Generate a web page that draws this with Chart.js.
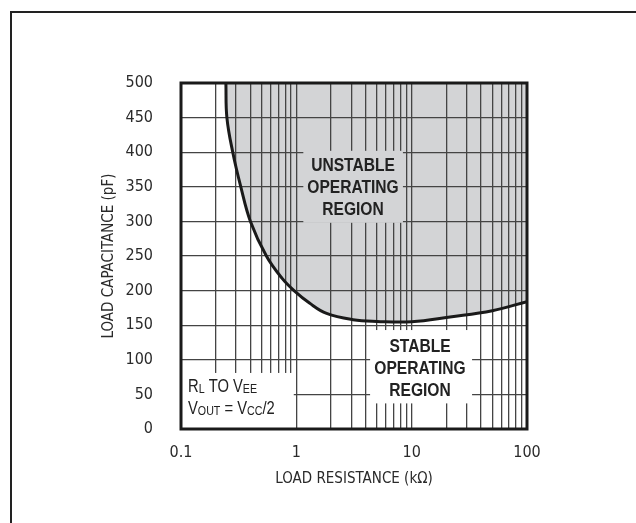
<!DOCTYPE html>
<html>
<head>
<meta charset="utf-8">
<script src="https://cdn.jsdelivr.net/npm/chart.js@4/dist/chart.umd.min.js"></script>
<style>
  body { margin: 0; background: #fff; }
  canvas { display: block; }
</style>
</head>
<body>
<canvas id="chart" width="636" height="523"></canvas>
<script>
// load resistance (kOhm) vs. load capacitance (pF) on the stability boundary
const resistance = [0.245, 0.25, 0.281, 0.33, 0.40, 0.55, 0.75, 0.955, 1.3, 1.83, 3.1, 5, 10, 21.5, 50, 100];
const capacitance = [500, 450, 400, 350, 300, 250, 218, 200, 182, 167, 158, 155.5, 155, 162, 171, 184];

// axis ticks
const xGridValues = [0.1, 0.2, 0.3, 0.4, 0.5, 0.6, 0.7, 0.8, 0.9,
                     1, 2, 3, 4, 5, 6, 7, 8, 9,
                     10, 20, 30, 40, 50, 60, 70, 80, 90, 100];
const xTickLabels = ['0.1', '1', '10', '100'];
const yTicks = [0, 50, 100, 150, 200, 250, 300, 350, 400, 450, 500];

const FONT = '"DejaVu Sans Condensed", "Liberation Sans", sans-serif';
const SHADE = '#d3d4d6';
const NARROW = 0.82; // squeeze Liberation Sans to look like a condensed face

// boxes that mask the grid and hold the region labels
const labelPlugin = {
  id: 'labels',
  beforeDatasetsDraw(chart) {
    const ctx = chart.ctx;
    const x = chart.scales.x, y = chart.scales.y;
    const box = (x0, x1, y0, y1, color) => {
      const l = x.getPixelForValue(x0), r = x.getPixelForValue(x1);
      const t = y.getPixelForValue(y1), b = y.getPixelForValue(y0);
      ctx.fillStyle = color;
      ctx.fillRect(l, t, r - l, b - t);
    };
    const narrowText = (s, px, py) => {
      ctx.save();
      ctx.translate(px, py);
      ctx.scale(NARROW, 1);
      ctx.fillText(s, 0, 0);
      ctx.restore();
    };
    ctx.save();
    box(1.15, 8.4, 298, 402, SHADE);
    box(4.36, 33.4, 37, 143, '#fff');
    box(0.1, 0.95, 0, 81, '#fff');

    ctx.fillStyle = '#222';
    ctx.textAlign = 'center';
    ctx.textBaseline = 'middle';
    ctx.font = 'bold 19px "Liberation Sans", sans-serif';
    ['UNSTABLE', 'OPERATING', 'REGION'].forEach((s, i) => narrowText(s, 353, 166 + i * 21.7));
    ['STABLE', 'OPERATING', 'REGION'].forEach((s, i) => narrowText(s, 420, 347 + i * 21.7));

    // R_L TO V_EE / V_OUT = V_CC/2
    ctx.textAlign = 'left';
    ctx.textBaseline = 'alphabetic';
    const rich = (parts, x0, base) => {
      let cx = x0;
      parts.forEach(([s, sub]) => {
        ctx.font = (sub ? '13px' : '18px') + ' "Liberation Sans", sans-serif';
        narrowText(s, cx, base + (sub ? 1 : 0));
        cx += ctx.measureText(s).width * NARROW;
      });
    };
    rich([['R'], ['L', 1], [' TO V'], ['EE', 1]], 188, 392);
    rich([['V'], ['OUT', 1], [' = V'], ['CC', 1], ['/2']], 188, 414);
    ctx.restore();
  },
  afterDraw(chart) {
    const ctx = chart.ctx;
    const a = chart.chartArea;
    ctx.save();
    ctx.strokeStyle = '#1a1a1a';
    ctx.lineWidth = 3;
    ctx.strokeRect(a.left, a.top, a.right - a.left, a.bottom - a.top);
    // outer frame (top and left only)
    ctx.strokeStyle = '#222';
    ctx.lineWidth = 2;
    ctx.beginPath();
    ctx.moveTo(11, 523);
    ctx.lineTo(11, 12);
    ctx.lineTo(636, 12);
    ctx.stroke();
    ctx.restore();
  }
};

new Chart(document.getElementById('chart'), {
  type: 'line',
  data: {
    datasets: [{
      data: resistance.map((r, i) => ({ x: r, y: capacitance[i] })),
      borderColor: '#1a1a1a',
      borderWidth: 3,
      backgroundColor: SHADE,
      fill: 'end',
      pointRadius: 0,
      tension: 0.4
    }]
  },
  options: {
    responsive: false,
    animation: false,
    devicePixelRatio: 1,
    layout: { padding: { top: 83, right: 109, left: 0, bottom: 0 } },
    plugins: {
      legend: { display: false },
      tooltip: { enabled: false },
      filler: { drawTime: 'beforeDraw' }
    },
    scales: {
      x: {
        type: 'logarithmic',
        min: 0.1,
        max: 100,
        afterBuildTicks: s => { s.ticks = xGridValues.map(v => ({ value: v })); },
        afterFit: s => { s.height = 94; },
        border: { display: false },
        grid: { color: '#444', lineWidth: 1.3, drawTicks: false },
        ticks: {
          autoSkip: false,
          maxRotation: 0,
          padding: 14,
          color: '#2a2a2a',
          font: { family: FONT, size: 16 },
          callback: v => xTickLabels.includes(String(v)) ? String(v) : ''
        },
        title: {
          display: true,
          text: 'LOAD RESISTANCE (kΩ)',
          color: '#2a2a2a',
          font: { family: FONT, size: 15 },
          padding: { top: 0, bottom: 35 }
        }
      },
      y: {
        min: 0,
        max: 500,
        afterBuildTicks: s => { s.ticks = yTicks.map(v => ({ value: v })); },
        afterFit: s => { s.width = 181; },
        border: { display: false },
        grid: { color: '#444', lineWidth: 1.3, drawTicks: false },
        ticks: {
          padding: 28,
          color: '#2a2a2a',
          font: { family: FONT, size: 16 }
        },
        title: {
          display: true,
          text: 'LOAD CAPACITANCE (pF)',
          color: '#2a2a2a',
          font: { family: FONT, size: 15 },
          padding: { top: 100, bottom: 0 }
        }
      }
    }
  },
  plugins: [labelPlugin]
});
</script>
</body>
</html>
